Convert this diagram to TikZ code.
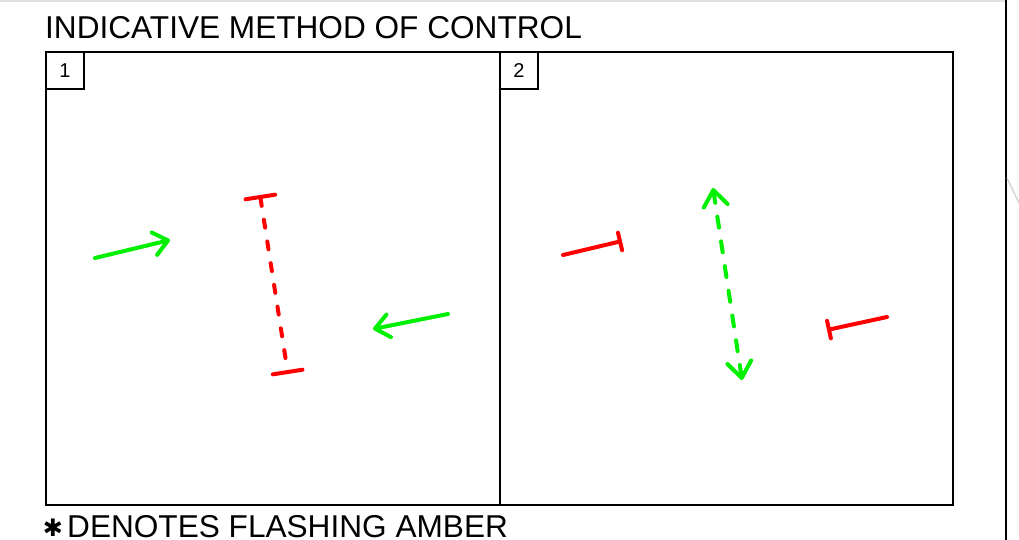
\documentclass[tikz,border=0pt]{standalone}
\usepackage{fontspec}
\setmainfont{Liberation Sans}
\newfontfamily\symfont{DejaVu Sans}
\usetikzlibrary{arrows.meta}
\definecolor{sgreen}{RGB}{0,240,0}
\definecolor{sred}{RGB}{255,0,0}
\definecolor{faint}{RGB}{225,225,225}
\tikzset{
  frame/.style={draw=black, line width=1.6pt},
  go/.style={draw=sgreen, line width=4pt, line cap=round, line join=round},
  stopline/.style={draw=sred, line width=4pt, line cap=round},
  reddash/.style={dash pattern=on 8pt off 14pt},
  greendash/.style={dash pattern=on 11pt off 14pt},
  title/.style={font=\fontsize{31.6}{31.6}\selectfont, inner sep=0pt, anchor=base west},
  numlabel/.style={font=\fontsize{20}{20}\selectfont, inner sep=0pt},
}
\begin{document}
\begin{tikzpicture}[x=1pt,y=-1pt]
\useasboundingbox (0,0) rectangle (1019,540);
\fill[white] (0,0) rectangle (1019,540);
% page edges
\draw[faint, line width=1.2pt] (0,1) -- (1006,1);
\draw[black, line width=1.8pt] (1006,0) -- (1006,540);
\draw[faint!80!gray, line width=1.2pt] (1007,178) -- (1019,203);
% title
\node[title] (ttl) at (45,39) {INDICATIVE METHOD OF CONTROL};
% frames
\draw[frame] (46,52) rectangle (953,505);
\draw[frame] (500,52) -- (500,505);
\draw[frame] (46,52) rectangle (84,89);
\draw[frame] (500,52) rectangle (538,89);
\node[numlabel] (n1) at (65,70.5) {1};
\node[numlabel] (n2) at (519,70.5) {2};
% panel 1
\coordinate (g1s) at (95,258);   \coordinate (g1e) at (170,240);
\coordinate (g2s) at (448,314);  \coordinate (g2e) at (373,329);
\coordinate (r1t) at (260,195);  \coordinate (r1b) at (288,374);
\draw[go, -{Straight Barb[length=14pt,width=23pt,round]}] (g1s) -- (g1e);
\draw[go, -{Straight Barb[length=14pt,width=23pt,round]}] (g2s) -- (g2e);
\draw[stopline, reddash, {Bar[width=30pt,round]}-{Bar[width=30pt,round]}] (r1t) -- (r1b);
% panel 2
\coordinate (s1s) at (563,255);  \coordinate (s1e) at (622,241);
\coordinate (s2s) at (887,317);  \coordinate (s2e) at (827,330);
\coordinate (gdt) at (713,188);  \coordinate (gdb) at (742,380);
\draw[stopline, -{Bar[width=18pt,round]}] (s1s) -- (s1e);
\draw[stopline, -{Bar[width=18pt,round]}] (s2s) -- (s2e);
\draw[go, greendash, {Straight Barb[length=16pt,width=24pt,round]}-{Straight Barb[length=16pt,width=24pt,round]}] (gdt) -- (gdb);
% footnote
\node[inner sep=0pt, font=\symfont\fontsize{24}{24}\selectfont] (ast) at (53,527.5) {✱};
\node[title] (foot) at (67,537) {DENOTES FLASHING AMBER};
\end{tikzpicture}
\end{document}
